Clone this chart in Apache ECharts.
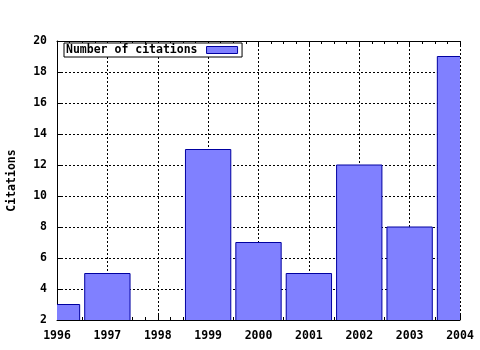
<!DOCTYPE html>
<html>
<head>
<meta charset="utf-8">
<script src="https://cdn.jsdelivr.net/npm/echarts@6/dist/echarts.min.js"></script>
<style>
html,body{margin:0;padding:0;background:#fff;}
#chart{width:480px;height:350px;}
</style>
</head>
<body>
<div id="chart"></div>
<script>
var years = [1996, 1997, 1998, 1999, 2000, 2001, 2002, 2003, 2004];
var citations = [3, 5, 2, 13, 7, 5, 12, 8, 19];
var seriesName = 'Number of citations';
var yTitle = 'Citations';

var FONT = '"DejaVu Sans Mono", monospace';
var data = years.map(function (y, i) { return [y, citations[i]]; });
var BAR_FILL = '#8080ff', BAR_EDGE = '#0000a0';

var chart = echarts.init(document.getElementById('chart'), null, {renderer: 'canvas'});
var xCommon = {
  type: 'value', min: 1996, max: 2004, interval: 1,
  axisLine: {show: true, onZero: false, lineStyle: {color: '#000', width: 1}},
  axisTick: {show: true, inside: true, length: 6, lineStyle: {color: '#000'}},
  minorTick: {show: true, splitNumber: 4, length: 3, lineStyle: {color: '#000'}}
};
chart.setOption({
  animation: false,
  backgroundColor: '#fff',
  grid: {left: 57, right: 20, top: 41, bottom: 30, containLabel: false, outerBoundsMode: 'none'},
  legend: {
    show: true, left: 64, top: 43, align: 'right',
    itemWidth: 31, itemHeight: 7, itemGap: 0,
    padding: [1, 4, 1, 2],
    borderColor: '#000', borderWidth: 1, backgroundColor: '#fff',
    itemStyle: {color: BAR_FILL, borderColor: BAR_EDGE, borderWidth: 1},
    textStyle: {fontFamily: FONT, fontWeight: 'bold', fontSize: 11.5, color: '#000', padding: [0, 4, 0, 0]},
    data: [{name: seriesName, icon: 'rect'}]
  },
  xAxis: [
    Object.assign({}, xCommon, {
      position: 'bottom',
      axisLabel: {show: true, margin: 10, color: '#000', fontFamily: FONT, fontWeight: 'bold', fontSize: 11.5,
        formatter: function (v) { return String(v); }},
      splitLine: {show: true, lineStyle: {color: '#000', type: [2, 2], width: 1}}
    }),
    Object.assign({}, xCommon, {
      position: 'top',
      axisLabel: {show: false},
      splitLine: {show: false}
    })
  ],
  yAxis: {
    type: 'value', min: 2, max: 20, interval: 2,
    name: yTitle, nameLocation: 'middle', nameGap: 39,
    nameTextStyle: {fontFamily: FONT, fontWeight: 'bold', fontSize: 11.5, color: '#000'},
    axisLine: {show: true, lineStyle: {color: '#000', width: 1}},
    axisTick: {show: true, inside: true, length: 5, lineStyle: {color: '#000'}},
    axisLabel: {margin: 10, color: '#000', fontFamily: FONT, fontWeight: 'bold', fontSize: 11.5},
    splitLine: {show: true, lineStyle: {color: '#000', type: [2, 2], width: 1}}
  },
  series: [{
    name: seriesName,
    type: 'custom',
    xAxisIndex: 0,
    data: data,
    clip: true,
    encode: {x: 0, y: 1},
    itemStyle: {color: BAR_FILL, borderColor: BAR_EDGE, borderWidth: 1},
    renderItem: function (params, api) {
      var x = api.value(0), v = api.value(1);
      var top = api.coord([x, v]);
      var base = api.coord([x, 2]);
      var h = base[1] - top[1];
      if (h <= 0.5) return null;
      var w = api.size([1, 0])[0] * 0.9;
      return {
        type: 'rect',
        shape: {x: top[0] - w / 2, y: top[1], width: w, height: h + 2},
        style: {fill: BAR_FILL, stroke: BAR_EDGE, lineWidth: 1}
      };
    }
  }]
});
</script>
</body>
</html>
